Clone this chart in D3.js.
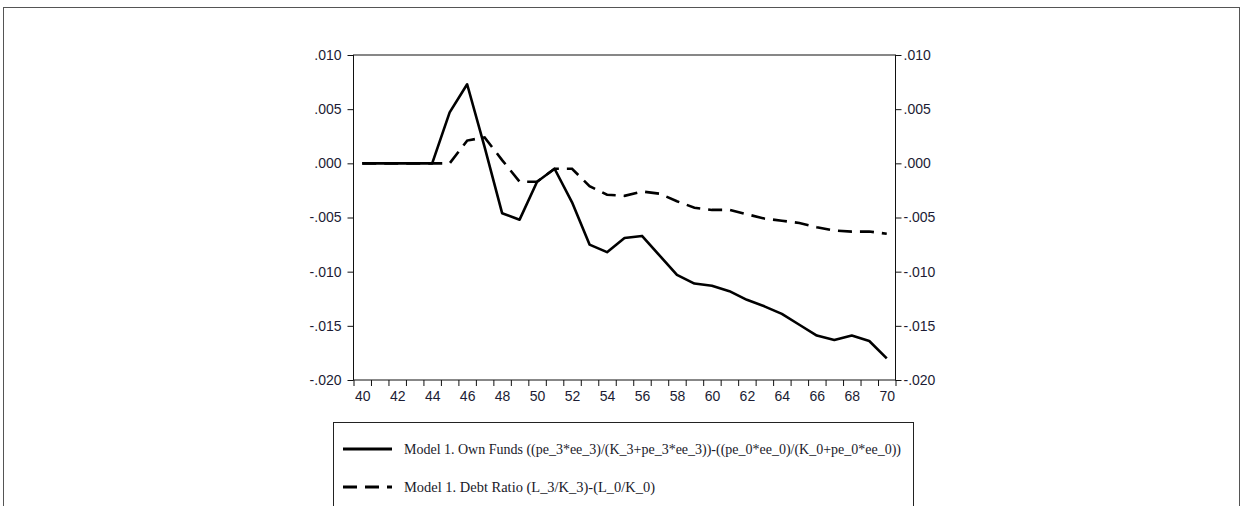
<!DOCTYPE html>
<html>
<head>
<meta charset="utf-8">
<script src="https://cdn.jsdelivr.net/npm/d3@7"></script>
<style>
html,body{margin:0;padding:0;background:#fff;}
svg{display:block;}
</style>
</head>
<body>
<svg id="chart" width="1243" height="506"></svg>
<script>
const years = [40,41,42,43,44,45,46,47,48,49,50,51,52,53,54,55,56,57,58,59,60,61,62,63,64,65,66,67,68,69,70];
const ownFunds = [0,0,0,0,0,0.0047,0.0073,0.0015,-0.0046,-0.0052,-0.0017,-0.0005,-0.0036,-0.0075,-0.0082,-0.0069,-0.0067,-0.0085,-0.0103,-0.0111,-0.0113,-0.0118,-0.0126,-0.0132,-0.0139,-0.0149,-0.0159,-0.0163,-0.0159,-0.0164,-0.0180];
const debtRatio = [0,0,0,0,0,0,0.0021,0.0024,0.0003,-0.0017,-0.0017,-0.0005,-0.0005,-0.0021,-0.0029,-0.0030,-0.0026,-0.0028,-0.0035,-0.0041,-0.0043,-0.0043,-0.0047,-0.0051,-0.0053,-0.0055,-0.0059,-0.0062,-0.0063,-0.0063,-0.0065];
const yTicks = [0.010,0.005,0,-0.005,-0.010,-0.015,-0.020];
const yTickLabels = [".010",".005",".000","-.005","-.010","-.015","-.020"];
const xLabelYears = [40,42,44,46,48,50,52,54,56,58,60,62,64,66,68,70];
const seriesNames = [
  "Model 1. Own Funds ((pe_3*ee_3)/(K_3+pe_3*ee_3))-((pe_0*ee_0)/(K_0+pe_0*ee_0))",
  "Model 1. Debt Ratio (L_3/K_3)-(L_0/K_0)"
];

const svg = d3.select("#chart");
const L = 353.5, R = 895.5, T = 55, B = 380;
const x = d3.scaleLinear().domain([39.5, 70.5]).range([L, R]);
const y = d3.scaleLinear().domain([-0.020, 0.010]).range([B, T]);
const labelColor = "#1c1c34";
const axisFont = "Liberation Sans, Arial, sans-serif";

// outer frame
svg.append("rect").attr("x",3.5).attr("y",7.5).attr("width",1236).attr("height",540)
  .attr("fill","none").attr("stroke","#555").attr("stroke-width",1);

// plot frame
svg.append("rect").attr("x",L).attr("y",T).attr("width",R-L).attr("height",B-T)
  .attr("fill","none").attr("stroke","#111").attr("stroke-width",1);

const fmt = d => yTickLabels[yTicks.indexOf(d)];

// left axis
const gl = svg.append("g").attr("transform",`translate(${L},0)`)
  .call(d3.axisLeft(y).tickValues(yTicks).tickFormat(fmt).tickSize(6).tickSizeOuter(0).tickPadding(6));
// right axis
const gr = svg.append("g").attr("transform",`translate(${R},0)`)
  .call(d3.axisRight(y).tickValues(yTicks).tickFormat(fmt).tickSize(6).tickSizeOuter(0).tickPadding(2));
// bottom axis ticks (boundaries between observations)
const xTickVals = years.map(v => v - 0.5).concat([70.5]);
const gb = svg.append("g").attr("transform",`translate(0,${B})`)
  .call(d3.axisBottom(x).tickValues(xTickVals).tickFormat("").tickSize(6).tickSizeOuter(0));
// bottom labels centred on observations
const gbl = svg.append("g").attr("transform",`translate(0,${B})`)
  .call(d3.axisBottom(x).tickValues(xLabelYears).tickFormat(d3.format("d")).tickSize(0).tickPadding(11));
gbl.selectAll("line").remove();

[gl,gr,gb,gbl].forEach(g=>{
  g.select(".domain").remove();
  g.selectAll("line").attr("stroke","#111");
  g.selectAll("text").attr("font-family",axisFont).attr("font-size","14px").attr("fill",labelColor);
});

// lines
const line = d3.line().x((d,i)=>x(years[i])).y(d=>y(d));
svg.append("path").datum(debtRatio).attr("d",line)
  .attr("fill","none").attr("stroke","#000").attr("stroke-width",2.6).attr("stroke-dasharray","14,8");
svg.append("path").datum(ownFunds).attr("d",line)
  .attr("fill","none").attr("stroke","#000").attr("stroke-width",2.6).attr("stroke-linejoin","round");

// legend
const lg = svg.append("g");
lg.append("rect").attr("x",333.5).attr("y",422.5).attr("width",580).attr("height",120)
  .attr("fill","#fff").attr("stroke","#222").attr("stroke-width",1);
lg.append("line").attr("x1",343).attr("x2",392).attr("y1",449).attr("y2",449)
  .attr("stroke","#000").attr("stroke-width",3);
lg.append("line").attr("x1",343).attr("x2",392).attr("y1",487).attr("y2",487)
  .attr("stroke","#000").attr("stroke-width",3).attr("stroke-dasharray","14,8");
lg.append("text").attr("x",404).attr("y",454).text(seriesNames[0])
  .attr("font-family","Liberation Serif, serif").attr("font-size","15px").attr("fill","#1a1a2a")
  .attr("textLength",497).attr("lengthAdjust","spacingAndGlyphs");
lg.append("text").attr("x",404).attr("y",492).text(seriesNames[1])
  .attr("font-family","Liberation Serif, serif").attr("font-size","15px").attr("fill","#1a1a2a")
  .attr("textLength",251).attr("lengthAdjust","spacingAndGlyphs");
</script>
</body>
</html>
